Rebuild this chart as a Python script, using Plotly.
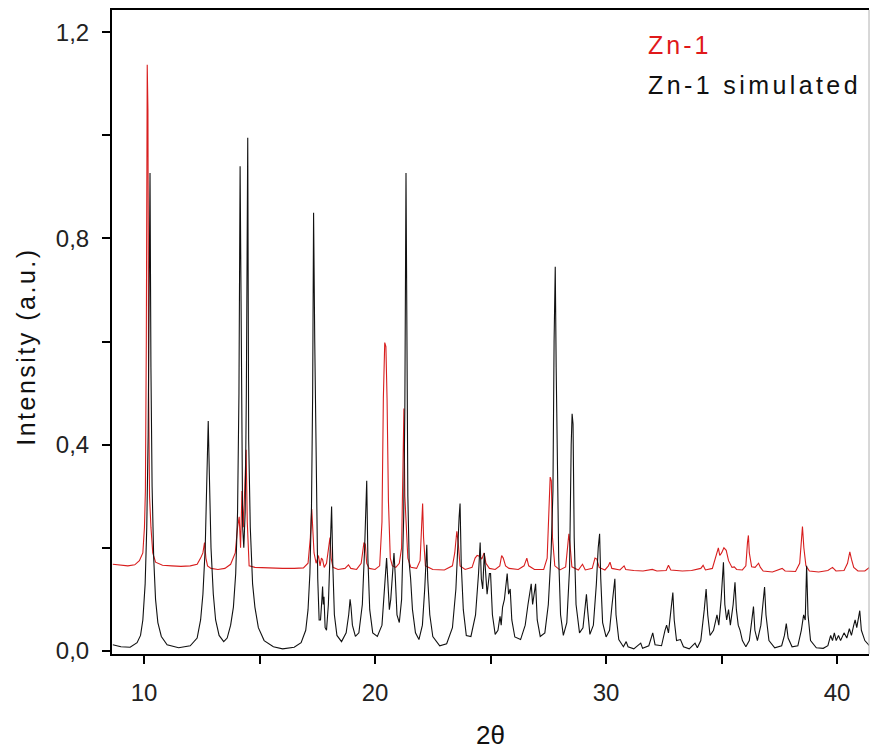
import plotly.graph_objects as go

# ---- data: (2theta, intensity) ----
sim_points = [
    (8.65, 0.012), (9.00, 0.008), (9.40, 0.007), (9.70, 0.016), (9.85, 0.03), (9.95, 0.06),
    (10.05, 0.13), (10.12, 0.24), (10.18, 0.42), (10.22, 0.62), (10.26, 0.927), (10.30, 0.55),
    (10.35, 0.32), (10.42, 0.18), (10.50, 0.10), (10.60, 0.055), (10.75, 0.028), (11.00, 0.012),
    (11.50, 0.006), (12.00, 0.01), (12.30, 0.025), (12.45, 0.06), (12.55, 0.11), (12.65, 0.20),
    (12.72, 0.32), (12.78, 0.446), (12.83, 0.34), (12.90, 0.20), (13.00, 0.11), (13.10, 0.06),
    (13.25, 0.03), (13.45, 0.018), (13.60, 0.025), (13.75, 0.05), (13.87, 0.085), (13.97, 0.15),
    (14.05, 0.27), (14.11, 0.50), (14.16, 0.94), (14.21, 0.50), (14.27, 0.24), (14.32, 0.20),
    (14.38, 0.27), (14.43, 0.50), (14.49, 0.995), (14.53, 0.41), (14.60, 0.24), (14.70, 0.13),
    (14.80, 0.085), (14.95, 0.045), (15.20, 0.02), (15.60, 0.008), (16.00, 0.004), (16.50, 0.007),
    (16.80, 0.016), (17.00, 0.04), (17.10, 0.08), (17.18, 0.15), (17.25, 0.28), (17.30, 0.50),
    (17.34, 0.85), (17.39, 0.60), (17.45, 0.34), (17.52, 0.14), (17.58, 0.06), (17.64, 0.06),
    (17.70, 0.10), (17.73, 0.125), (17.76, 0.09), (17.79, 0.105), (17.84, 0.045), (17.90, 0.04),
    (17.98, 0.09), (18.05, 0.20), (18.09, 0.26), (18.12, 0.28), (18.17, 0.17), (18.24, 0.07),
    (18.35, 0.03), (18.55, 0.018), (18.75, 0.035), (18.86, 0.07), (18.92, 0.10), (18.96, 0.085),
    (19.02, 0.05), (19.15, 0.028), (19.30, 0.035), (19.45, 0.09), (19.55, 0.20), (19.60, 0.26),
    (19.64, 0.33), (19.69, 0.18), (19.77, 0.08), (19.90, 0.035), (20.10, 0.028), (20.30, 0.05),
    (20.42, 0.12), (20.50, 0.18), (20.56, 0.13), (20.62, 0.08), (20.68, 0.10), (20.76, 0.16),
    (20.82, 0.19), (20.87, 0.15), (20.95, 0.07), (21.05, 0.055), (21.15, 0.10), (21.24, 0.26),
    (21.29, 0.47), (21.34, 0.927), (21.38, 0.55), (21.42, 0.30), (21.48, 0.17), (21.54, 0.14),
    (21.62, 0.08), (21.75, 0.035), (21.90, 0.022), (22.05, 0.05), (22.15, 0.12), (22.21, 0.18),
    (22.24, 0.206), (22.28, 0.14), (22.37, 0.07), (22.50, 0.028), (22.80, 0.01), (23.10, 0.014),
    (23.35, 0.045), (23.50, 0.12), (23.58, 0.22), (23.64, 0.26), (23.68, 0.286), (23.73, 0.17),
    (23.82, 0.08), (23.95, 0.03), (24.15, 0.028), (24.35, 0.07), (24.48, 0.15), (24.55, 0.21),
    (24.60, 0.14), (24.66, 0.12), (24.73, 0.19), (24.78, 0.15), (24.85, 0.11), (24.95, 0.15),
    (25.00, 0.15), (25.08, 0.07), (25.20, 0.032), (25.32, 0.04), (25.41, 0.067), (25.46, 0.05),
    (25.52, 0.085), (25.60, 0.10), (25.68, 0.13), (25.72, 0.15), (25.78, 0.11), (25.85, 0.12),
    (25.92, 0.06), (26.05, 0.027), (26.30, 0.022), (26.50, 0.05), (26.62, 0.09), (26.70, 0.118),
    (26.76, 0.13), (26.82, 0.09), (26.90, 0.12), (26.95, 0.13), (27.02, 0.06), (27.15, 0.028),
    (27.35, 0.035), (27.50, 0.09), (27.62, 0.19), (27.70, 0.31), (27.75, 0.60), (27.80, 0.745),
    (27.84, 0.55), (27.89, 0.38), (27.95, 0.18), (28.03, 0.07), (28.15, 0.03), (28.30, 0.055),
    (28.42, 0.16), (28.49, 0.40), (28.53, 0.46), (28.57, 0.44), (28.62, 0.22), (28.70, 0.09),
    (28.85, 0.035), (29.00, 0.045), (29.09, 0.088), (29.15, 0.11), (29.20, 0.08), (29.30, 0.032),
    (29.45, 0.05), (29.58, 0.13), (29.66, 0.20), (29.72, 0.227), (29.77, 0.14), (29.85, 0.055),
    (30.00, 0.027), (30.15, 0.04), (30.26, 0.09), (30.32, 0.118), (30.38, 0.14), (30.43, 0.07),
    (30.55, 0.022), (30.75, 0.008), (30.87, 0.018), (30.95, 0.008), (31.20, 0.004), (31.50, 0.015),
    (31.58, 0.005), (31.85, 0.01), (32.02, 0.035), (32.12, 0.012), (32.40, 0.01), (32.55, 0.04),
    (32.62, 0.05), (32.70, 0.035), (32.82, 0.08), (32.89, 0.113), (32.95, 0.06), (33.05, 0.02),
    (33.22, 0.022), (33.35, 0.008), (33.60, 0.004), (33.85, 0.015), (33.95, 0.006), (34.10, 0.02),
    (34.25, 0.08), (34.33, 0.12), (34.40, 0.07), (34.50, 0.03), (34.65, 0.04), (34.80, 0.07),
    (34.88, 0.05), (34.98, 0.10), (35.08, 0.172), (35.14, 0.09), (35.22, 0.06), (35.30, 0.08),
    (35.38, 0.05), (35.50, 0.09), (35.58, 0.133), (35.64, 0.08), (35.72, 0.05), (35.80, 0.04),
    (35.90, 0.02), (36.05, 0.008), (36.20, 0.02), (36.32, 0.06), (36.38, 0.086), (36.44, 0.04),
    (36.55, 0.02), (36.70, 0.05), (36.80, 0.09), (36.86, 0.124), (36.92, 0.07), (37.05, 0.02),
    (37.30, 0.006), (37.60, 0.01), (37.72, 0.03), (37.80, 0.053), (37.88, 0.025), (38.05, 0.008),
    (38.30, 0.01), (38.45, 0.04), (38.55, 0.07), (38.62, 0.06), (38.68, 0.165), (38.74, 0.07),
    (38.85, 0.02), (39.10, 0.006), (39.40, 0.005), (39.60, 0.01), (39.72, 0.03), (39.80, 0.02),
    (39.88, 0.035), (39.96, 0.02), (40.06, 0.03), (40.15, 0.02), (40.30, 0.035), (40.42, 0.025),
    (40.53, 0.043), (40.62, 0.03), (40.72, 0.05), (40.78, 0.06), (40.85, 0.045), (40.93, 0.065),
    (40.98, 0.078), (41.05, 0.04), (41.20, 0.02), (41.40, 0.01),
]

exp_points = [
    (8.65, 0.168), (9.00, 0.167), (9.30, 0.165), (9.60, 0.167), (9.80, 0.175), (9.95, 0.19),
    (10.02, 0.24), (10.06, 0.31), (10.10, 0.60), (10.14, 1.137), (10.17, 1.05), (10.20, 0.50),
    (10.24, 0.30), (10.30, 0.24), (10.38, 0.19), (10.50, 0.172), (10.80, 0.166), (11.20, 0.165),
    (11.60, 0.164), (12.00, 0.165), (12.30, 0.168), (12.45, 0.18), (12.55, 0.19), (12.62, 0.21),
    (12.68, 0.18), (12.75, 0.165), (12.90, 0.16), (13.20, 0.158), (13.50, 0.16), (13.75, 0.168),
    (13.95, 0.19), (14.05, 0.24), (14.12, 0.26), (14.18, 0.20), (14.24, 0.31), (14.30, 0.24),
    (14.36, 0.32), (14.42, 0.39), (14.47, 0.25), (14.55, 0.165), (14.80, 0.162), (15.20, 0.161),
    (15.60, 0.161), (16.00, 0.160), (16.50, 0.160), (16.90, 0.161), (17.10, 0.17), (17.20, 0.22),
    (17.26, 0.275), (17.30, 0.23), (17.36, 0.19), (17.45, 0.17), (17.55, 0.185), (17.62, 0.165),
    (17.68, 0.18), (17.73, 0.177), (17.80, 0.162), (17.90, 0.17), (17.98, 0.20), (18.05, 0.22),
    (18.10, 0.18), (18.18, 0.162), (18.40, 0.158), (18.70, 0.16), (18.85, 0.167), (18.95, 0.16),
    (19.20, 0.158), (19.40, 0.17), (19.52, 0.21), (19.58, 0.207), (19.64, 0.17), (19.75, 0.16),
    (20.00, 0.158), (20.20, 0.165), (20.30, 0.25), (20.36, 0.49), (20.42, 0.598), (20.47, 0.59),
    (20.52, 0.49), (20.58, 0.29), (20.66, 0.18), (20.75, 0.165), (20.90, 0.162), (21.05, 0.17),
    (21.15, 0.20), (21.20, 0.34), (21.25, 0.47), (21.29, 0.30), (21.35, 0.25), (21.42, 0.18),
    (21.55, 0.162), (21.80, 0.16), (21.95, 0.175), (22.02, 0.25), (22.06, 0.286), (22.10, 0.22),
    (22.18, 0.165), (22.50, 0.158), (23.00, 0.157), (23.35, 0.165), (23.45, 0.19), (23.54, 0.232),
    (23.60, 0.21), (23.68, 0.165), (23.90, 0.158), (24.20, 0.162), (24.33, 0.18), (24.42, 0.185),
    (24.55, 0.183), (24.62, 0.178), (24.72, 0.19), (24.80, 0.17), (24.95, 0.16), (25.20, 0.158),
    (25.40, 0.165), (25.48, 0.185), (25.55, 0.18), (25.65, 0.165), (25.80, 0.16), (26.20, 0.158),
    (26.45, 0.165), (26.57, 0.18), (26.65, 0.165), (26.90, 0.158), (27.30, 0.158), (27.45, 0.18),
    (27.53, 0.30), (27.58, 0.337), (27.63, 0.33), (27.68, 0.22), (27.78, 0.165), (28.00, 0.157),
    (28.25, 0.163), (28.34, 0.20), (28.39, 0.227), (28.45, 0.20), (28.52, 0.163), (28.80, 0.157),
    (28.98, 0.168), (29.10, 0.157), (29.40, 0.16), (29.52, 0.18), (29.60, 0.178), (29.70, 0.162),
    (29.95, 0.157), (30.10, 0.165), (30.17, 0.172), (30.25, 0.16), (30.60, 0.157), (30.78, 0.165),
    (30.85, 0.158), (31.20, 0.156), (31.60, 0.155), (32.00, 0.158), (32.20, 0.155), (32.60, 0.156),
    (32.70, 0.166), (32.80, 0.157), (33.30, 0.155), (33.70, 0.156), (34.10, 0.16), (34.20, 0.166),
    (34.30, 0.157), (34.60, 0.16), (34.78, 0.185), (34.86, 0.20), (34.92, 0.185), (35.00, 0.19),
    (35.10, 0.20), (35.20, 0.195), (35.30, 0.175), (35.45, 0.162), (35.55, 0.163), (35.65, 0.158),
    (35.90, 0.157), (36.05, 0.165), (36.12, 0.21), (36.16, 0.224), (36.20, 0.19), (36.30, 0.163),
    (36.45, 0.162), (36.60, 0.17), (36.68, 0.162), (36.80, 0.155), (37.20, 0.153), (37.50, 0.157),
    (37.62, 0.16), (37.75, 0.155), (38.20, 0.154), (38.38, 0.17), (38.45, 0.225), (38.50, 0.241),
    (38.56, 0.20), (38.65, 0.165), (38.80, 0.155), (39.20, 0.153), (39.60, 0.156), (39.80, 0.162),
    (39.95, 0.155), (40.30, 0.156), (40.45, 0.17), (40.55, 0.192), (40.62, 0.178), (40.72, 0.162),
    (40.90, 0.155), (41.20, 0.155), (41.40, 0.162),
]

series_names = ["Zn-1", "Zn-1 simulated"]
x_tick_vals = [10, 20, 30, 40]
y_tick_vals = [0.0, 0.4, 0.8, 1.2]

exp_x = [p[0] for p in exp_points]
exp_y = [p[1] for p in exp_points]
sim_x = [p[0] for p in sim_points]
sim_y = [p[1] for p in sim_points]

RED = "#d81e1e"
FONT = "Liberation Sans, Arial, sans-serif"

fig = go.Figure()
fig.add_trace(go.Scatter(x=exp_x, y=exp_y, mode="lines", name=series_names[0],
                         line=dict(color=RED, width=1.1)))
fig.add_trace(go.Scatter(x=sim_x, y=sim_y, mode="lines", name=series_names[1],
                         line=dict(color="#111111", width=1.1)))

fig.update_layout(
    width=871, height=755,
    margin=dict(l=112, r=2, t=10, b=101),
    paper_bgcolor="white", plot_bgcolor="white",
    showlegend=False,
    separators=", ",
    font=dict(family=FONT, color="#222222"),
)

fig.update_xaxes(
    range=[8.615, 41.38], showgrid=False, zeroline=False,
    showline=True, linecolor="black", linewidth=2, mirror=True,
    ticks="outside", ticklen=8, tickwidth=2, tickcolor="black",
    tickvals=x_tick_vals, ticklabelstandoff=8,
    tickfont=dict(size=24, family=FONT, color="#222222"),
    minor=dict(dtick=5, tick0=0, ticks="outside", ticklen=8, tickwidth=2, tickcolor="black"),
)
fig.update_yaxes(
    range=[-0.006, 1.243], showgrid=False, zeroline=False,
    showline=True, linecolor="black", linewidth=2,
    ticks="outside", ticklen=8, tickwidth=2, tickcolor="black",
    tickvals=y_tick_vals, tickformat=".1f", ticklabelstandoff=8,
    tickfont=dict(size=24, family=FONT, color="#222222"),
    minor=dict(dtick=0.2, tick0=0, ticks="outside", ticklen=8, tickwidth=2, tickcolor="black"),
)

# right edge of frame (faint grey in reference)
fig.add_shape(type="line", xref="paper", yref="paper", x0=1, x1=1, y0=0, y1=1,
              line=dict(color="#b0b0b0", width=1))

# axis titles
fig.add_annotation(xref="paper", yref="paper", x=-0.1136, y=0.477,
                   text='<span style="letter-spacing:2.5px">Intensity (a.u.)</span>',
                   textangle=-90, showarrow=False, xanchor="center", yanchor="middle",
                   font=dict(size=25, family=FONT, color="#111111"))
fig.add_annotation(xref="paper", yref="paper", x=0.5, y=-0.126,
                   text="2θ", showarrow=False, xanchor="center", yanchor="middle",
                   font=dict(size=26, family=FONT, color="#111111"))

# legend-like labels (text only, as in the reference)
fig.add_annotation(xref="paper", yref="paper", x=0.706, y=0.946,
                   text='<span style="letter-spacing:3px">' + series_names[0] + '</span>',
                   showarrow=False, xanchor="left", yanchor="middle",
                   font=dict(size=25, family=FONT, color="#e0191a"))
fig.add_annotation(xref="paper", yref="paper", x=0.706, y=0.884,
                   text='<span style="letter-spacing:3.4px">' + series_names[1] + '</span>',
                   showarrow=False, xanchor="left", yanchor="middle",
                   font=dict(size=25, family=FONT, color="#111111"))

fig.write_html(
    "out.html",
    config={"displayModeBar": False},
    post_script="document.body.style.margin='0';document.body.style.overflow='hidden';",
)
